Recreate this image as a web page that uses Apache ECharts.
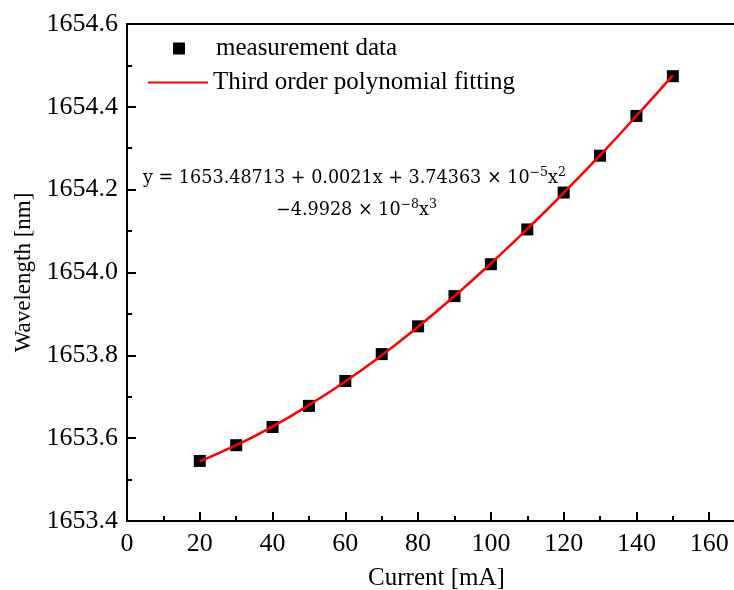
<!DOCTYPE html>
<html>
<head>
<meta charset="utf-8">
<title>Wavelength vs Current</title>
<script src="https://cdn.jsdelivr.net/npm/echarts@6/dist/echarts.min.js"></script>
<style>
  html, body { margin: 0; padding: 0; background: #fff; }
  #main { width: 734px; height: 590px; }
</style>
</head>
<body>
<div id="main"></div>
<script>
// current [mA]
var currents = [20, 30, 40, 50, 60, 70, 80, 90, 100, 110, 120, 130, 140, 150];
// measured wavelength [nm]
var measured = [1653.545, 1653.583, 1653.627, 1653.678, 1653.738, 1653.803, 1653.870,
                1653.943, 1654.020, 1654.104, 1654.193, 1654.282, 1654.378, 1654.474];
// fitted curve at the same currents
var fitted = [1653.544, 1653.583, 1653.628, 1653.680, 1653.737, 1653.800, 1653.869,
              1653.943, 1654.022, 1654.105, 1654.192, 1654.283, 1654.378, 1654.476];

var serif = 'Liberation Serif';

function pairs(xs, ys) {
    var out = [];
    for (var i = 0; i < xs.length; i++) {
        out.push([xs[i], ys[i]]);
    }
    return out;
}

var option = {
    animation: false,
    backgroundColor: '#fff',
    textStyle: { fontFamily: serif, color: '#000' },
    // plot runs past the right edge of the picture (cropped at ~167 mA)
    grid: { left: 127, top: 24, width: 655, height: 497, containLabel: false, outerBoundsMode: 'none' },
    legend: [{
        data: ['measurement data'],
        left: 168,
        top: 31,
        icon: 'rect',
        itemWidth: 12,
        itemHeight: 12,
        itemStyle: { color: '#000', opacity: 1 },
        textStyle: { fontFamily: serif, fontSize: 25, color: '#000', padding: [0, 0, 0, 26] }
    }, {
        data: ['Third order polynomial fitting'],
        left: 142,
        top: 65,
        itemWidth: 60,
        itemHeight: 14,
        itemStyle: { color: 'transparent', borderColor: 'transparent', borderWidth: 0 },
        textStyle: { fontFamily: serif, fontSize: 25, color: '#000' }
    }],
    xAxis: [{
        type: 'value',
        min: 0,
        max: 180,
        interval: 20,
        name: 'Current [mA]',
        nameLocation: 'middle',
        nameGap: 45,
        // centre the title on the visible part of the axis
        nameTextStyle: { fontFamily: serif, fontSize: 25, color: '#000', padding: [0, 36, 0, 0] },
        axisLine: { lineStyle: { color: '#000', width: 2 } },
        axisTick: { inside: true, length: 9, lineStyle: { color: '#000', width: 2 } },
        minorTick: { show: true, splitNumber: 2, length: 5, lineStyle: { color: '#000', width: 2 } },
        axisLabel: { fontFamily: serif, fontSize: 26, color: '#000', margin: 10 },
        splitLine: { show: false }
    }, {
        type: 'value',
        position: 'top',
        min: 0,
        max: 180,
        axisLine: { show: true, lineStyle: { color: '#000', width: 2 } },
        axisTick: { show: false },
        axisLabel: { show: false },
        splitLine: { show: false }
    }],
    yAxis: {
        type: 'value',
        min: 1653.4,
        max: 1654.6,
        interval: 0.2,
        name: 'Wavelength [nm]',
        nameLocation: 'middle',
        nameGap: 89,
        nameTextStyle: { fontFamily: serif, fontSize: 23, color: '#000' },
        axisLine: { show: true, lineStyle: { color: '#000', width: 2 } },
        axisTick: { inside: true, length: 9, lineStyle: { color: '#000', width: 2 } },
        minorTick: { show: true, splitNumber: 2, length: 5, lineStyle: { color: '#000', width: 2 } },
        axisLabel: {
            fontFamily: serif, fontSize: 26, color: '#000', margin: 9,
            formatter: function(v) { return v.toFixed(1); }
        },
        splitLine: { show: false }
    },
    graphic: [{
        type: 'text',
        left: 143,
        top: 162,
        style: {
            text: '{t|y = 1653.48713 + 0.0021x + 3.74363 × 10}{s|−5}{t|x}{s|2}\n' +
                  '{p|}{t|−4.9928 × 10}{s|−8}{t|x}{s|3}',
            rich: {
                t: { fontFamily: 'DejaVu Serif', fontSize: 17.6, color: '#000', lineHeight: 32 },
                s: { fontFamily: 'DejaVu Serif', fontSize: 12.5, color: '#000', lineHeight: 32, verticalAlign: 'top', padding: [4, 0, 0, 0] },
                p: { width: 133 }
            }
        }
    }],
    series: [{
        name: 'measurement data',
        type: 'scatter',
        symbol: 'rect',
        symbolSize: 12,
        itemStyle: { color: '#000', opacity: 1 },
        data: pairs(currents, measured)
    }, {
        name: 'Third order polynomial fitting',
        type: 'line',
        smooth: true,
        symbol: 'none',
        lineStyle: { color: '#ff0000', width: 2.5 },
        itemStyle: { color: '#ff0000' },
        data: pairs(currents, fitted)
    }]
};

var myChart = echarts.init(document.getElementById('main'));
myChart.setOption(option);
</script>
</body>
</html>
